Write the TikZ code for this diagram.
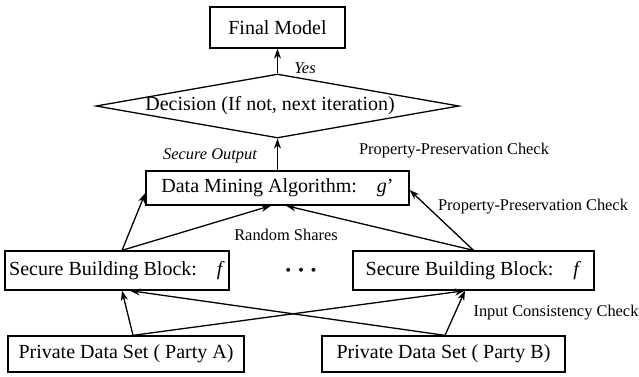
\documentclass[tikz,border=0pt]{standalone}
\usepackage{fontspec}
\setmainfont{Liberation Serif}
\usetikzlibrary{arrows.meta,shapes.geometric}
\begin{document}
\begin{tikzpicture}[x=1pt,y=-1pt,
  box/.style={draw,line width=1.3pt,rectangle,inner sep=0pt,
    font=\fontsize{20}{24}\selectfont},
  decide/.style={draw,line width=1.3pt,diamond,inner sep=0pt,
    font=\fontsize{20}{24}\selectfont},
  lbl/.style={inner sep=0pt,font=\fontsize{16.4}{20}\selectfont},
  ilbl/.style={lbl,font=\fontsize{16.4}{20}\selectfont\itshape},
  flow/.style={line width=1.3pt,-{Stealth[length=10pt,width=7pt]}}]
\useasboundingbox (0,0) rectangle (639,376);

% boxes
\node[box,minimum width=135pt,minimum height=41pt] (final) at (277.5,27.5) {Final Model};
\node[decide,minimum width=363pt,minimum height=64pt] (dec) at (277.5,106) {};
\node[inner sep=0pt,font=\fontsize{20}{24}\selectfont] (dect) at (270,106) {Decision (If not, next iteration)};
\node[box,minimum width=263pt,minimum height=34pt] (dm) at (277.5,188) {Data Mining Algorithm:\quad \textit{g}’};
\node[box,minimum width=224pt,minimum height=39pt] (sbbL) at (117,270.5) {Secure Building Block:\quad \textit{f}};
\node[box,minimum width=241pt,minimum height=39pt] (sbbR) at (473.5,270.5) {Secure Building Block:\quad \textit{f}};
\node[inner sep=0pt,font=\fontsize{24}{28}\selectfont\boldmath] (dots) at (301,271) {$\cdots$};
\node[box,minimum width=236pt,minimum height=36pt] (pA) at (126,354) {Private Data Set ( Party A)};
\node[box,minimum width=243pt,minimum height=36pt] (pB) at (443.5,354) {Private Data Set ( Party B)};

% labels
\node[ilbl] (yes) at (305,68) {Yes};
\node[ilbl] (secout) at (210,156) {Secure Output};
\node[lbl] (ppc1) at (454,151) {Property-Preservation Check};
\node[lbl] (ppc2) at (533,207) {Property-Preservation Check};
\node[lbl] (rs) at (286,235) {Random Shares};
\node[lbl] (icc) at (556,313) {Input Consistency Check};

% connectors
\draw[flow] (dec.north) -- (final.south);
\draw[flow] (dm.north) -- (dec.south);
\draw[flow] ([xshift=5pt]sbbL.north) -- ([yshift=-5pt]dm.west);
\draw[flow] ([xshift=5pt]sbbL.north) -- ([xshift=-6.5pt]dm.south);
\draw[flow] (sbbR.north) -- ([xshift=8.5pt]dm.south);
\draw[flow] (sbbR.north) -- ([yshift=-2pt]dm.east);
\draw[flow] ([xshift=7pt]pA.north) -- ([xshift=5pt]sbbL.south);
\draw[flow] ([xshift=7pt]pA.north) -- ([xshift=-8.5pt]sbbR.south);
\draw[flow] ([xshift=1.5pt]pB.north) -- ([xshift=-8.5pt]sbbR.south);
\draw[flow] ([xshift=1.5pt]pB.north) -- ([xshift=13pt]sbbL.south);
\end{tikzpicture}
\end{document}
